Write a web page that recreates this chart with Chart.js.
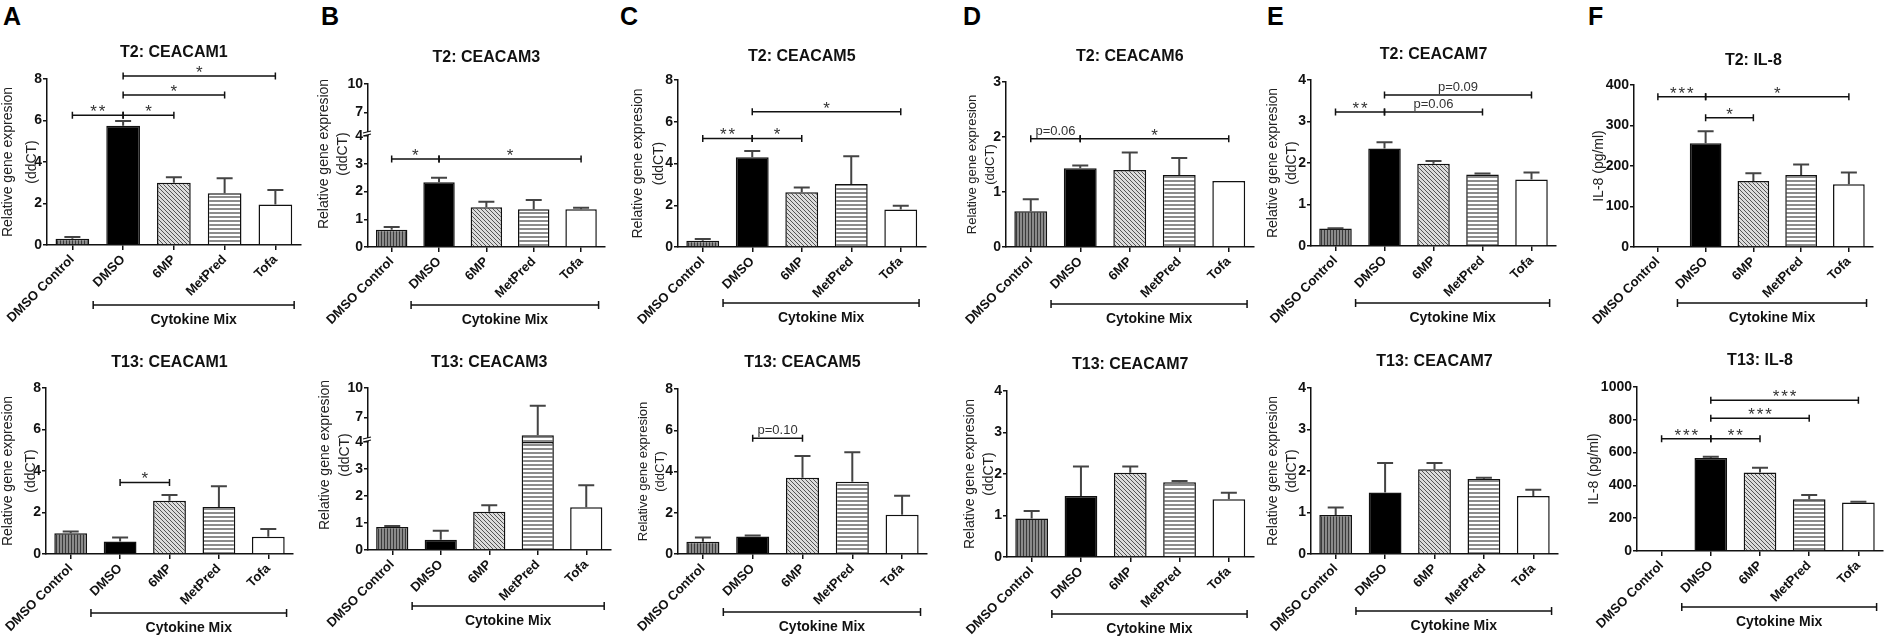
<!DOCTYPE html>
<html>
<head>
<meta charset="utf-8">
<script src="https://cdn.jsdelivr.net/npm/chart.js@4.4.1/dist/chart.umd.min.js"></script>
<style>
html, body { margin: 0; padding: 0; background: #fff; width: 1885px; height: 639px; overflow: hidden; position: relative; }
body { font-family: 'Liberation Sans', Arial, sans-serif; }
.panel { position: absolute; }
.letter { position: absolute; top: 4px; font-weight: bold; font-size: 25px; line-height: 25px; color: #000; }
</style>
</head>
<body>
<div class="letter" style="left:3px">A</div>
<div class="letter" style="left:321px">B</div>
<div class="letter" style="left:620px">C</div>
<div class="letter" style="left:963px">D</div>
<div class="letter" style="left:1267px">E</div>
<div class="letter" style="left:1588px">F</div>
<script>
const FONT = "'Liberation Sans', Arial, sans-serif";
Chart.defaults.font.family = FONT;
Chart.defaults.color = '#111';

// ---- data ----
const categories = ['DMSO Control', 'DMSO', '6MP', 'MetPred', 'Tofa'];

const t2Ceacam1Mean = [0.3, 5.75, 3.0, 2.5, 1.95];
const t2Ceacam1Sem = [0.08, 0.22, 0.27, 0.72, 0.7];
const t2Ceacam1Sig = [[0, 1, 6.25, '**'], [1, 2, 6.25, '*'], [1, 3, 7.23, '*'], [1, 4, 8.14, '*']];
const t2Ceacam1Ticks = [0, 2, 4, 6, 8];

const t2Ceacam3Mean = [0.62, 2.33, 1.43, 1.36, 1.36];
const t2Ceacam3Sem = [0.1, 0.17, 0.2, 0.33, 0.05];
const t2Ceacam3Sig = [[0, 1, 3.17, '*'], [1, 4, 3.17, '*']];
const t2Ceacam3Ticks = [0, 1, 2, 3, 4];
const t2Ceacam3TicksUp = [7, 10];

const t2Ceacam5Mean = [0.3, 4.3, 2.62, 3.02, 1.8];
const t2Ceacam5Sem = [0.08, 0.3, 0.23, 1.33, 0.18];
const t2Ceacam5Sig = [[0, 1, 5.2, '**'], [1, 2, 5.2, '*'], [1, 4, 6.48, '*']];
const t2Ceacam5Ticks = [0, 2, 4, 6, 8];

const t2Ceacam6Mean = [0.65, 1.43, 1.4, 1.31, 1.2];
const t2Ceacam6Sem = [0.22, 0.05, 0.32, 0.31, 0];
const t2Ceacam6Sig = [[0, 1, 1.97, 'p=0.06'], [1, 4, 1.97, '*']];
const t2Ceacam6Ticks = [0, 1, 2, 3];

const t2Ceacam7Mean = [0.42, 2.35, 1.98, 1.72, 1.6];
const t2Ceacam7Sem = [0.01, 0.15, 0.07, 0.03, 0.17];
const t2Ceacam7Sig = [[0, 1, 3.23, '**'], [1, 3, 3.23, 'p=0.06'], [1, 4, 3.64, 'p=0.09']];
const t2Ceacam7Ticks = [0, 1, 2, 3, 4];

const t2Il8Mean = [2, 256, 163, 178, 155];
const t2Il8Sem = [0, 30, 19, 26, 29];
const t2Il8Sig = [[0, 1, 371, '***'], [1, 4, 371, '*'], [1, 2, 319, '*']];
const t2Il8Ticks = [0, 100, 200, 300, 400];

const t13Ceacam1Mean = [1.0, 0.6, 2.57, 2.26, 0.83];
const t13Ceacam1Sem = [0.08, 0.2, 0.27, 1.0, 0.38];
const t13Ceacam1Sig = [[1, 2, 3.45, '*']];
const t13Ceacam1Ticks = [0, 2, 4, 6, 8];

const t13Ceacam3Mean = [0.85, 0.38, 1.42, 5.2, 1.58];
const t13Ceacam3Sem = [0.04, 0.33, 0.24, 3.0, 0.82];
const t13Ceacam3Sig = [];
const t13Ceacam3Ticks = [0, 1, 2, 3, 4];
const t13Ceacam3TicksUp = [7, 10];

const t13Ceacam5Mean = [0.6, 0.85, 3.7, 3.5, 1.9];
const t13Ceacam5Sem = [0.2, 0.05, 1.05, 1.43, 0.93];
const t13Ceacam5Sig = [[1, 2, 5.61, 'p=0.10']];
const t13Ceacam5Ticks = [0, 2, 4, 6, 8];

const t13Ceacam7aMean = [0.93, 1.47, 2.03, 1.8, 1.39];
const t13Ceacam7aSem = [0.18, 0.71, 0.15, 0.03, 0.16];
const t13Ceacam7bMean = [0.94, 1.48, 2.04, 1.81, 1.4];
const t13Ceacam7bSem = [0.18, 0.71, 0.15, 0.03, 0.15];
const t13Ceacam7Ticks = [0, 1, 2, 3, 4];

const t13Il8Mean = [5, 567, 478, 315, 295];
const t13Il8Sem = [0, 7, 30, 27, 6];
const t13Il8Sig = [[0, 1, 685, '***'], [1, 2, 685, '**'], [1, 3, 809, '***'], [1, 4, 919, '***']];
const t13Il8Ticks = [0, 200, 400, 600, 800, 1000];

const yTitleGene = ['Relative gene expresion', '(ddCT)'];
const yTitleIl8 = 'IL-8 (pg/ml)';
const groupLabel = 'Cytokine Mix';

// ---- bar fills ----
function makePattern(w, h, draw) {
    const c = document.createElement('canvas');
    c.width = w; c.height = h;
    const g = c.getContext('2d');
    draw(g);
    return g.createPattern(c, 'repeat');
}
const vStripe = makePattern(3, 3, function(g) {
    g.fillStyle = '#8a8a8a'; g.fillRect(0, 0, 3, 3);
    g.fillStyle = '#3a3a3a'; g.fillRect(0, 0, 1, 3);
});
const diagHatch = makePattern(4, 4, function(g) {
    g.fillStyle = '#dcdcdc'; g.fillRect(0, 0, 4, 4);
    g.fillStyle = '#555';
    for (let i = 0; i < 4; i++) g.fillRect(i, i, 1, 1);
});
const hStripe = makePattern(4, 4, function(g) {
    g.fillStyle = '#fff'; g.fillRect(0, 0, 4, 4);
    g.fillStyle = '#8c8c8c'; g.fillRect(0, 0, 4, 2);
});
const fills = [vStripe, '#000', diagHatch, hStripe, '#fff'];

// ---- layout ----
const YW = 56, RIGHT = 30;
const rows = [{ top: 28, h: 304 }, { top: 336, h: 303 }];

const panels = [
    { row: 0, axisX: 47, step: 50.75, topPx: 79, y0: 245, titleY: 53, cyt: 60, yt: [39, 24, 14],
      title: 'T2: CEACAM1', mean: t2Ceacam1Mean, sem: t2Ceacam1Sem, sig: t2Ceacam1Sig, ticks: t2Ceacam1Ticks, yTitle: yTitleGene },
    { row: 0, axisX: 368, step: 47.35, topPx: 84, y0: 247, breakPx: 136, upMin: 4.5, ytc: 154, titleY: 58, cyt: 58, yt: [44, 19, 14],
      title: 'T2: CEACAM3', mean: t2Ceacam3Mean, sem: t2Ceacam3Sem, sig: t2Ceacam3Sig, ticks: t2Ceacam3Ticks, ticksUp: t2Ceacam3TicksUp, yTitle: yTitleGene },
    { row: 0, axisX: 678, step: 49.5, topPx: 80, y0: 247, titleY: 57, cyt: 56, yt: [39.5, 20.5, 14],
      title: 'T2: CEACAM5', mean: t2Ceacam5Mean, sem: t2Ceacam5Sem, sig: t2Ceacam5Sig, ticks: t2Ceacam5Ticks, yTitle: yTitleGene },
    { row: 0, axisX: 1006, step: 49.5, topPx: 82, y0: 247, titleY: 57, cyt: 57, yt: [34, 18, 13],
      title: 'T2: CEACAM6', mean: t2Ceacam6Mean, sem: t2Ceacam6Sem, sig: t2Ceacam6Sig, ticks: t2Ceacam6Ticks, yTitle: yTitleGene },
    { row: 0, axisX: 1311, step: 49, topPx: 80, y0: 246, titleY: 55, cyt: 57, yt: [38, 19.5, 14],
      title: 'T2: CEACAM7', mean: t2Ceacam7Mean, sem: t2Ceacam7Sem, sig: t2Ceacam7Sig, ticks: t2Ceacam7Ticks, yTitle: yTitleGene },
    { row: 0, axisX: 1634, step: 47.75, topPx: 85, y0: 247, titleY: 61, cyt: 56, yt: [35, 16, 14],
      title: 'T2: IL-8', mean: t2Il8Mean, sem: t2Il8Sem, sig: t2Il8Sig, ticks: t2Il8Ticks, yTitle: yTitleIl8 },

    { row: 1, axisX: 46, step: 49.4, topPx: 388, y0: 554, titleY: 363, cyt: 59, yt: [38, 23, 14],
      title: 'T13: CEACAM1', mean: t13Ceacam1Mean, sem: t13Ceacam1Sem, sig: t13Ceacam1Sig, ticks: t13Ceacam1Ticks, yTitle: yTitleGene },
    { row: 1, axisX: 368, step: 48.5, topPx: 388, y0: 550, breakPx: 442, upMin: 4.5, ytc: 455, titleY: 363, cyt: 56, yt: [43, 20, 14],
      title: 'T13: CEACAM3', mean: t13Ceacam3Mean, sem: t13Ceacam3Sem, sig: t13Ceacam3Sig, ticks: t13Ceacam3Ticks, ticksUp: t13Ceacam3TicksUp, yTitle: yTitleGene },
    { row: 1, axisX: 678, step: 49.8, topPx: 389, y0: 554, titleY: 363, cyt: 58, yt: [35, 17, 13],
      title: 'T13: CEACAM5', mean: t13Ceacam5Mean, sem: t13Ceacam5Sem, sig: t13Ceacam5Sig, ticks: t13Ceacam5Ticks, yTitle: yTitleGene },
    { row: 1, axisX: 1007, step: 49.3, topPx: 391, y0: 557, titleY: 365, cyt: 57, yt: [37, 19, 14],
      title: 'T13: CEACAM7', mean: t13Ceacam7aMean, sem: t13Ceacam7aSem, sig: [], ticks: t13Ceacam7Ticks, yTitle: yTitleGene },
    { row: 1, axisX: 1311, step: 49.4, topPx: 388, y0: 554, titleY: 362, cyt: 57, yt: [38, 19, 14],
      title: 'T13: CEACAM7', mean: t13Ceacam7bMean, sem: t13Ceacam7bSem, sig: [], ticks: t13Ceacam7Ticks, yTitle: yTitleGene },
    { row: 1, axisX: 1637, step: 49.2, topPx: 387, y0: 551, titleY: 361, cyt: 56, yt: [43, 16, 14],
      title: 'T13: IL-8', mean: t13Il8Mean, sem: t13Il8Sem, sig: t13Il8Sig, ticks: t13Il8Ticks, yTitle: yTitleIl8 }
];

// error bars, brackets, group line, axis break
function decorPlugin(p, row) {
    return {
        id: 'decor',
        afterDatasetsDraw(chart) {
            const ctx = chart.ctx;
            const x = chart.scales.x, y = chart.scales.y, yUp = chart.scales.yUp;
            const pick = function(v) { return (yUp && v > p.ticks[p.ticks.length - 1]) ? yUp : y; };
            ctx.save();

            // error bars
            ctx.strokeStyle = '#444';
            ctx.lineWidth = 2;
            p.mean.forEach(function(m, i) {
                const e = p.sem[i];
                if (!e) return;
                const s = pick(m + e);
                const cx = x.getPixelForValue(i);
                const y1 = pick(m).getPixelForValue(m);
                const y2 = s.getPixelForValue(m + e);
                ctx.beginPath();
                ctx.moveTo(cx, y1); ctx.lineTo(cx, y2);
                ctx.moveTo(cx - 8, y2); ctx.lineTo(cx + 8, y2);
                ctx.stroke();
            });

            // significance brackets
            ctx.strokeStyle = '#111';
            ctx.lineWidth = 1.5;
            p.sig.forEach(function(b) {
                const xa = x.getPixelForValue(b[0]);
                const xb = x.getPixelForValue(b[1]);
                const yy = pick(b[2]).getPixelForValue(b[2]);
                ctx.beginPath();
                ctx.moveTo(xa, yy); ctx.lineTo(xb, yy);
                ctx.moveTo(xa, yy - 3.5); ctx.lineTo(xa, yy + 3.5);
                ctx.moveTo(xb, yy - 3.5); ctx.lineTo(xb, yy + 3.5);
                ctx.stroke();
                const mid = (xa + xb) / 2;
                ctx.fillStyle = '#333';
                ctx.textAlign = 'center';
                ctx.textBaseline = 'alphabetic';
                if (/^\*+$/.test(b[3])) {
                    ctx.font = '17px ' + FONT;
                    const n = b[3].length, gap = 8.5;
                    for (let k = 0; k < n; k++) {
                        ctx.fillText('*', mid + (k - (n - 1) / 2) * gap, yy + 2);
                    }
                } else {
                    ctx.font = '13px ' + FONT;
                    ctx.fillText(b[3], mid, yy - 4);
                }
            });

            // Cytokine Mix group line
            const gy = chart.chartArea.bottom + p.cyt;
            const gx1 = x.getPixelForValue(1 - 0.59);
            const gx2 = x.getPixelForValue(4 + 0.37);
            ctx.strokeStyle = '#111';
            ctx.lineWidth = 1.5;
            ctx.beginPath();
            ctx.moveTo(gx1, gy); ctx.lineTo(gx2, gy);
            ctx.moveTo(gx1, gy - 4); ctx.lineTo(gx1, gy + 4);
            ctx.moveTo(gx2, gy - 4); ctx.lineTo(gx2, gy + 4);
            ctx.stroke();
            ctx.fillStyle = '#111';
            ctx.font = 'bold 14px ' + FONT;
            ctx.textAlign = 'center';
            ctx.textBaseline = 'middle';
            ctx.fillText(groupLabel, (gx1 + gx2) / 2, gy + 15);

            // broken axis: break mark and title
            if (yUp) {
                const ax = chart.chartArea.left;
                const yb = y.top;
                ctx.fillStyle = '#fff';
                ctx.fillRect(ax - 2, yb - 4, 4, 3);
                ctx.strokeStyle = '#111';
                ctx.lineWidth = 1.2;
                ctx.beginPath();
                ctx.moveTo(ax - 5, yb - 3); ctx.lineTo(ax + 3, yb - 5);
                ctx.moveTo(ax - 5, yb); ctx.lineTo(ax + 3, yb - 2);
                ctx.stroke();

                ctx.save();
                ctx.translate(ax - p.yt[0], p.ytc - row.top);
                ctx.rotate(-Math.PI / 2);
                ctx.fillStyle = '#222';
                ctx.font = p.yt[2] + 'px ' + FONT;
                ctx.textAlign = 'center';
                ctx.textBaseline = 'middle';
                ctx.fillText(p.yTitle[0], 0, 0);
                ctx.fillText(p.yTitle[1], 0, p.yt[1]);
                ctx.restore();
            }
            ctx.restore();
        }
    };
}

function yAxisBase(tickList) {
    return {
        type: 'linear',
        position: 'left',
        min: tickList[0],
        max: tickList[tickList.length - 1],
        border: { display: true, color: '#111', width: 1.5 },
        grid: { drawOnChartArea: false, drawTicks: true, tickLength: 4, color: '#111', lineWidth: 1.5 },
        ticks: { font: { size: 14, weight: 'bold' }, color: '#111', padding: 1, callback: function(v) { return String(v); } },
        afterBuildTicks: function(s) { s.ticks = tickList.map(function(v) { return { value: v }; }); },
        afterFit: function(s) { s.width = YW; s.paddingTop = 0; s.paddingBottom = 0; }
    };
}

function makePanel(p) {
    const row = rows[p.row];
    const width = Math.round(YW + 5 * p.step + RIGHT);
    const div = document.createElement('div');
    div.className = 'panel';
    div.style.left = (p.axisX - YW) + 'px';
    div.style.top = row.top + 'px';
    div.style.width = width + 'px';
    div.style.height = row.h + 'px';
    const canvas = document.createElement('canvas');
    canvas.width = width;
    canvas.height = row.h;
    canvas.style.width = width + 'px';
    canvas.style.height = row.h + 'px';
    div.appendChild(canvas);
    document.body.appendChild(div);

    const titleLH = 16 * 1.2;
    const tTop = p.titleY - row.top - titleLH / 2;
    const tBottom = (p.topPx - row.top) - tTop - titleLH;
    const xH = row.h - (p.y0 - row.top);
    const chartW = 5 * p.step;

    const barStyle = {
        backgroundColor: fills,
        borderColor: '#111',
        borderWidth: 1.5,
        categoryPercentage: 0.8,
        barPercentage: 0.83,
        grouped: false
    };

    const scales = {
        x: {
            type: 'category',
            offset: true,
            border: { display: true, color: '#111', width: 1.5 },
            grid: { offset: false, drawOnChartArea: false, tickLength: 5, color: '#111', lineWidth: 1.5 },
            ticks: { font: { size: 13, weight: 'bold' }, color: '#111', maxRotation: 45, minRotation: 45, autoSkip: false, padding: 2 },
            afterFit: function(s) { s.height = xH; s.paddingLeft = 0; s.paddingRight = 0; }
        }
    };
    let datasets;
    const lowMax = p.ticks[p.ticks.length - 1];
    if (p.ticksUp) {
        scales.y = Object.assign(yAxisBase(p.ticks), { stack: 'brk', stackWeight: p.y0 - p.breakPx });
        scales.yUp = Object.assign(yAxisBase(p.ticksUp), { stack: 'brk', stackWeight: p.breakPx - p.topPx, min: p.upMin });
        datasets = [
            Object.assign({ label: p.title, data: p.mean.map(function(v) { return Math.min(v, lowMax); }), yAxisID: 'y' }, barStyle),
            Object.assign({ label: p.title + ' upper', data: p.mean.map(function(v) { return v > lowMax ? v : null; }), yAxisID: 'yUp' }, barStyle)
        ];
    } else {
        scales.y = yAxisBase(p.ticks);
        scales.y.title = {
            display: true,
            text: p.yTitle,
            color: '#222',
            font: { size: p.yt[2], weight: 'normal', lineHeight: p.yt[1] / p.yt[2] },
            padding: { top: YW - p.yt[0] - p.yt[1] / 2, bottom: 0 }
        };
        datasets = [Object.assign({ label: p.title, data: p.mean, yAxisID: 'y' }, barStyle)];
    }

    new Chart(canvas.getContext('2d'), {
        type: 'bar',
        data: { labels: categories, datasets: datasets },
        options: {
            responsive: false,
            animation: false,
            layout: { padding: { left: 0, right: width - YW - chartW, top: 0, bottom: 0 } },
            plugins: {
                legend: { display: false },
                tooltip: { enabled: false },
                title: {
                    display: true,
                    text: p.title,
                    fullSize: false,
                    color: '#111',
                    font: { size: 16, weight: 'bold', lineHeight: 1.2 },
                    padding: { top: tTop, bottom: tBottom }
                }
            },
            scales: scales
        },
        plugins: [decorPlugin(p, row)]
    });
}

panels.forEach(makePanel);
</script>
</body>
</html>
